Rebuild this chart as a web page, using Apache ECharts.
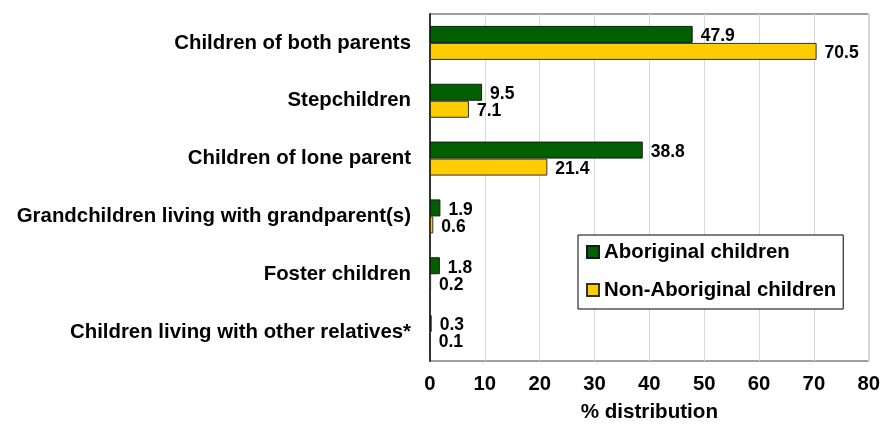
<!DOCTYPE html>
<html>
<head>
<meta charset="utf-8">
<script src="https://cdn.jsdelivr.net/npm/echarts@6/dist/echarts.min.js"></script>
<style>
  html, body { margin: 0; padding: 0; background: #ffffff; }
  #chart { width: 883px; height: 428px; }
</style>
</head>
<body>
<div id="chart"></div>
<script>
// Living arrangements of children, % distribution
const categories = [
  'Children of both parents',
  'Stepchildren',
  'Children of lone parent',
  'Grandchildren living with grandparent(s)',
  'Foster children',
  'Children living with other relatives*'
];
const aboriginal = [47.9, 9.5, 38.8, 1.9, 1.8, 0.3];
const nonAboriginal = [70.5, 7.1, 21.4, 0.6, 0.2, 0.1];
const seriesNames = ['Aboriginal children', 'Non-Aboriginal children'];
const xTicks = { min: 0, max: 80, interval: 10 };
const axisTitle = '% distribution';

const FONT = "'Liberation Sans', Arial, sans-serif";

const chart = echarts.init(document.getElementById('chart'), null, { renderer: 'canvas' });

const valueLabel = {
  show: true,
  position: 'right',
  distance: 8,
  offset: [0, 2],
  color: '#000',
  fontFamily: FONT,
  fontWeight: 'bold',
  fontSize: 17.5,
  formatter: p => p.value.toFixed(1)
};

chart.setOption({
  animation: false,
  backgroundColor: '#ffffff',
  grid: {
    left: 430, right: 14, top: 14, bottom: 65,
    show: true,
    borderColor: '#404040',
    borderWidth: 1,
    backgroundColor: 'transparent'
  },
  legend: {
    orient: 'vertical',
    left: 578,
    top: 235,
    padding: [6, 7, 8, 8],
    itemGap: 16,
    itemWidth: 12,
    itemHeight: 12,
    borderColor: '#000',
    borderWidth: 1,
    backgroundColor: '#fff',
    icon: 'rect',
    textStyle: {
      fontFamily: FONT,
      fontWeight: 'bold',
      fontSize: 20.4,
      lineHeight: 22,
      color: '#000'
    },
    data: seriesNames
  },
  xAxis: {
    type: 'value',
    min: xTicks.min,
    max: xTicks.max,
    interval: xTicks.interval,
    name: axisTitle,
    nameLocation: 'middle',
    nameGap: 41,
    nameTextStyle: {
      fontFamily: FONT, fontWeight: 'bold', fontSize: 20.6, color: '#000'
    },
    axisLine: { show: false },
    axisTick: { show: false },
    axisLabel: {
      margin: 13,
      fontFamily: FONT, fontWeight: 'bold', fontSize: 20.3, color: '#000'
    },
    splitLine: { show: true, lineStyle: { color: '#d9d9d9', width: 1 } }
  },
  yAxis: {
    type: 'category',
    inverse: true,
    data: categories,
    axisLine: { show: true, lineStyle: { color: '#333', width: 2 } },
    axisTick: { show: false },
    axisLabel: {
      margin: 19,
      padding: [3, 0, 0, 0],
      fontFamily: FONT, fontWeight: 'bold', fontSize: 20.4, color: '#000'
    },
    splitLine: { show: false }
  },
  series: [
    {
      name: seriesNames[0],
      type: 'bar',
      data: aboriginal,
      barWidth: 17,
      barGap: '0%',
      itemStyle: { color: '#006000', borderColor: '#1a1a1a', borderWidth: 1 },
      label: valueLabel
    },
    {
      name: seriesNames[1],
      type: 'bar',
      data: nonAboriginal,
      barWidth: 17,
      barGap: '0%',
      itemStyle: { color: '#FFCC00', borderColor: '#333', borderWidth: 1 },
      label: valueLabel
    }
  ]
});
</script>
</body>
</html>
